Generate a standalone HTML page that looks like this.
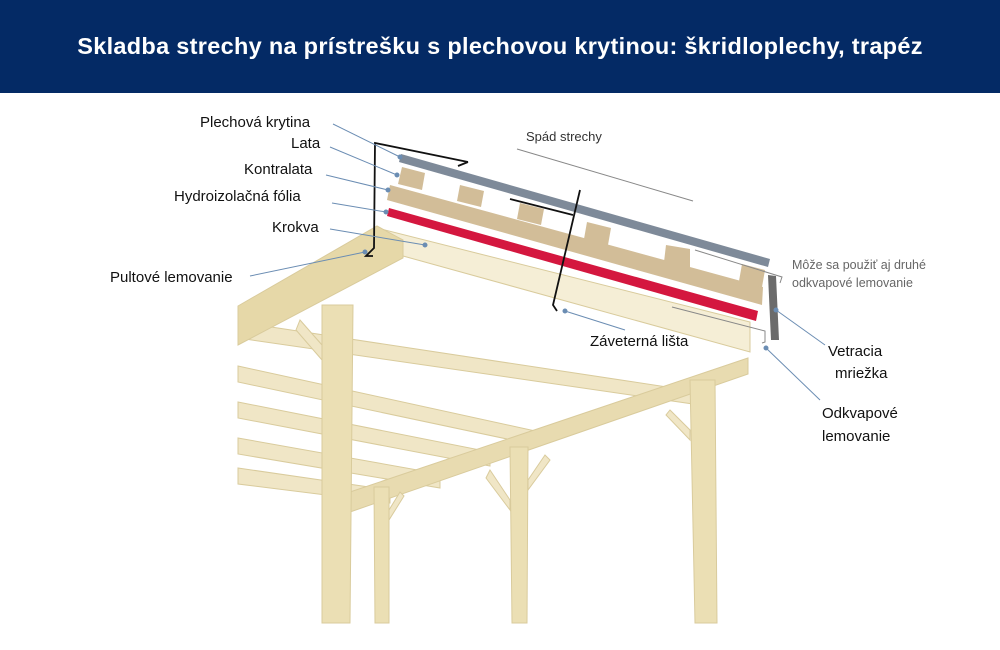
<!DOCTYPE html>
<html><head><meta charset="utf-8"><style>
body{margin:0;width:1000px;height:650px;overflow:hidden;background:#fff;font-family:"Liberation Sans",sans-serif}
.h{position:absolute;left:0;top:0;width:1000px;height:93px;background:#042a65;color:#fff;font-weight:bold;font-size:23.5px;text-align:center;line-height:93px;letter-spacing:0.3px}
</style></head><body>
<div class="h">Skladba strechy na prístrešku s plechovou krytinou: škridloplechy, trapéz</div>
<svg width="1000" height="650" style="position:absolute;left:0;top:0" font-family="Liberation Sans, sans-serif">
<g fill="#f0e6c6" stroke="#d9cb9c" stroke-width="1">
<polygon points="238,322 700,392 700,405 238,338"/>
<polygon points="238,366 540,432 540,446 238,382"/>
<polygon points="238,402 490,452 490,466 238,418"/>
<polygon points="238,438 440,474 440,488 238,454"/>
<polygon points="238,468 390,490 390,503 238,484"/>
<polygon points="350,492 748,358 748,374 350,512" fill="#e8dbb0"/>
<polygon points="377,228 750,322 750,352 403,256 403,240" fill="#f5eed6"/>
<polygon points="238,306 377,226 403,240 403,258 238,345" fill="#e6d8a8"/>
<polygon points="322,305 353,305 350,623 322,623" fill="#ebdfb4"/>
<polygon points="374,487 389,487 389,623 375,623" fill="#ebdfb4"/>
<polygon points="510,447 528,447 527,623 512,623" fill="#ebdfb4"/>
<polygon points="690,380 715,380 717,623 695,623" fill="#ebdfb4"/>
<polygon points="300,320 322,345 322,360 296,330" />
<polygon points="490,470 510,500 510,510 486,478"/>
<polygon points="528,480 545,455 550,460 528,490"/>
<polygon points="670,410 690,430 690,440 666,415"/>
<polygon points="389,510 400,492 404,496 389,520"/>
</g>
<polygon points="390,185 763,287 762,305 387,200" fill="#d2bd98"/>
<g fill="#d2bd98">
<polygon points="402,167 425,173 422,190 398,184"/>
<polygon points="460,185 484,191 481,207 457,201"/>
<polygon points="520,203 544,209 541,225 517,219"/>
<polygon points="587,222 611,228 608,245 584,239"/>
<polygon points="666,245 690,249 690,268 664,262"/>
<polygon points="742,264 765,270 762,287 739,281"/>
</g>
<polygon points="401,154 770,259 768,267 399,162" fill="#7e8a99"/>
<polygon points="389,208 758,311 756,321 387,216" fill="#d4173f"/>
<polygon points="768,275 776,276 779,340 771,340" fill="#6b6b6b"/>
<g fill="none" stroke="#111" stroke-width="1.8">
<polyline points="468,162 375,143 374,248 366,256 373,256"/>
<polyline points="468,162 458,166"/>
<polyline points="510,199 573,215"/>
<polyline points="580,190 553,305 557,311"/>
</g>
<g fill="none" stroke="#888" stroke-width="1">
<polyline points="695,250 782,277 780,283"/>
<polyline points="672,307 765,331 765,342 762,343"/>
<line x1="517" y1="149" x2="693" y2="201"/>
</g>
<g stroke="#6b8db3" stroke-width="1" fill="#6b8db3">
<line x1="333" y1="124" x2="400" y2="157"/><circle cx="400" cy="157" r="2"/>
<line x1="330" y1="147" x2="397" y2="175"/><circle cx="397" cy="175" r="2"/>
<line x1="326" y1="175" x2="388" y2="190"/><circle cx="388" cy="190" r="2"/>
<line x1="332" y1="203" x2="386" y2="212"/><circle cx="386" cy="212" r="2"/>
<line x1="330" y1="229" x2="425" y2="245"/><circle cx="425" cy="245" r="2"/>
<line x1="250" y1="276" x2="365" y2="252"/><circle cx="365" cy="252" r="2"/>
<line x1="625" y1="330" x2="565" y2="311"/><circle cx="565" cy="311" r="2"/>
<line x1="825" y1="345" x2="776" y2="310"/><circle cx="776" cy="310" r="2"/>
<line x1="820" y1="400" x2="766" y2="348"/><circle cx="766" cy="348" r="2"/>
</g>
<g font-size="15" fill="#111">
<text x="200" y="127">Plechová krytina</text>
<text x="291" y="148">Lata</text>
<text x="244" y="174">Kontralata</text>
<text x="174" y="201">Hydroizolačná fólia</text>
<text x="272" y="232">Krokva</text>
<text x="110" y="282">Pultové lemovanie</text>
<text x="590" y="346">Záveterná lišta</text>
<text x="828" y="356">Vetracia</text>
<text x="835" y="378">mriežka</text>
<text x="822" y="418">Odkvapové</text>
<text x="822" y="441">lemovanie</text>
</g>
<text x="526" y="141" font-size="13" fill="#333">Spád strechy</text>
<text x="792" y="269" font-size="12.5" fill="#666">Môže sa použiť aj druhé</text>
<text x="792" y="287" font-size="12.5" fill="#666">odkvapové lemovanie</text>
</svg>
</body></html>
